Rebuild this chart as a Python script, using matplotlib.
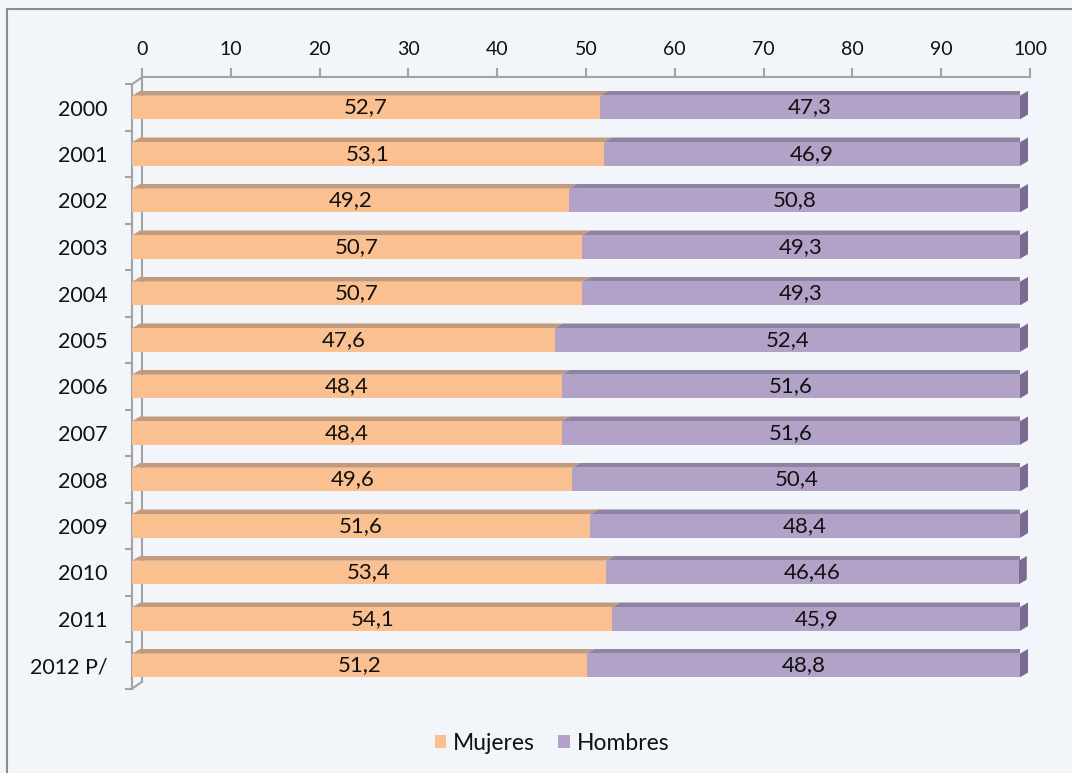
import numpy as np
import matplotlib.pyplot as plt
from matplotlib.patches import Polygon, Rectangle

plt.rcParams['font.family'] = ['Lato', 'DejaVu Sans']

# data
years = ['2000', '2001', '2002', '2003', '2004', '2005', '2006',
         '2007', '2008', '2009', '2010', '2011', '2012 P/']
mujeres = [52.7, 53.1, 49.2, 50.7, 50.7, 47.6, 48.4, 48.4, 49.6, 51.6, 53.4, 54.1, 51.2]
hombres = [47.3, 46.9, 50.8, 49.3, 49.3, 52.4, 51.6, 51.6, 50.4, 48.4, 46.46, 45.9, 48.8]
xticks = list(range(0, 101, 10))

bg = '#F2F5FA'
grey = '#A3A3A3'
c_muj, c_muj_top = '#FAC090', '#C49A7C'
c_hom, c_hom_top, c_hom_side = '#B3A2C7', '#8F83A3', '#7B6C8F'

fig = plt.figure(figsize=(10.72, 7.73), dpi=100, facecolor=bg)
ax = fig.add_axes([132 / 1072, 1 - 688.75 / 773, 888 / 1072, 604.5 / 773])
ax.set_facecolor(bg)
ax.set_xlim(0, 100)
ax.set_ylim(12.5, -0.5)

y = np.arange(len(years))
h = 0.508
dx, dy = 0.9, 0.101     # bar depth
wx, wy = 1.126, 0.15    # wall depth

# back wall lines
top = -0.5 - wy
ax.plot([wx, 100 + wx], [top, top], color=grey, lw=1.5, clip_on=False, zorder=1)
ax.plot([wx, wx], [top, 12.5 - wy], color=grey, lw=1.5, clip_on=False, zorder=1)
ax.plot([0, wx], [-0.5, top], color=grey, lw=1.5, clip_on=False, zorder=1)
ax.plot([0, wx], [12.5, 12.5 - wy], color=grey, lw=1.5, clip_on=False, zorder=1)
for k in xticks:
    ax.plot([k + wx, k + wx], [top, top - 0.187], color=grey, lw=1.5, clip_on=False, zorder=1)
    ax.text(k + wx, -1.258, str(k), ha='center', va='center', fontsize=14, color='#111111')

# bars (front faces)
b1 = ax.barh(y, mujeres, height=h, color=c_muj, label='Mujeres', zorder=3)
b2 = ax.barh(y, hombres, height=h, left=mujeres, color=c_hom, label='Hombres', zorder=3)

# top and side faces + labels
for i in range(len(years)):
    a, m, e = 0, mujeres[i], mujeres[i] + hombres[i]
    yt = y[i] - h / 2
    yb = y[i] + h / 2
    ax.add_patch(Polygon([(a, yt), (m, yt), (m + dx, yt - dy), (a + dx, yt - dy)],
                         closed=True, fc=c_muj_top, ec='none', zorder=2))
    ax.add_patch(Polygon([(m, yt), (e, yt), (e + dx, yt - dy), (m + dx, yt - dy)],
                         closed=True, fc=c_hom_top, ec='none', zorder=2))
    ax.add_patch(Polygon([(e, yt), (e + dx, yt - dy), (e + dx, yb - dy), (e, yb)],
                         closed=True, fc=c_hom_side, ec='none', zorder=2, clip_on=False))
    ax.text(m / 2, y[i], str(mujeres[i]).replace('.', ','), ha='center', va='center',
            fontsize=16, color='#111111', zorder=4)
    ax.text((m + e) / 2, y[i], str(hombres[i]).replace('.', ','), ha='center', va='center',
            fontsize=16, color='#111111', zorder=4)

# front axis
for s in ['top', 'right', 'bottom']:
    ax.spines[s].set_visible(False)
ax.spines['left'].set_color(grey)
ax.spines['left'].set_linewidth(1.5)
ax.set_yticks(y, years)
ax.set_yticks(np.arange(-0.5, 13, 1), minor=True)
ax.tick_params(axis='y', which='major', length=0, pad=17.3, labelsize=15.5, labelcolor='#111111')
ax.tick_params(axis='y', which='minor', length=5, width=1.5, color=grey)
ax.set_xticks([])

# outer frame
fig.add_artist(Rectangle((6.5 / 1072, -0.05), 1.2, 1 - 9.3 / 773 + 0.05,
                         transform=fig.transFigure, fill=False, ec='#8C8C8C', lw=1.5))

leg = fig.legend(handles=[b1, b2], loc='center', bbox_to_anchor=(0.515, 0.0388), ncol=2,
                 frameon=False, fontsize=16.5, handlelength=0.5, handleheight=0.5,
                 handletextpad=0.3, columnspacing=1.0)
for t in leg.get_texts():
    t.set_color('#111111')

fig.savefig('out.png', dpi=100, facecolor=bg)
